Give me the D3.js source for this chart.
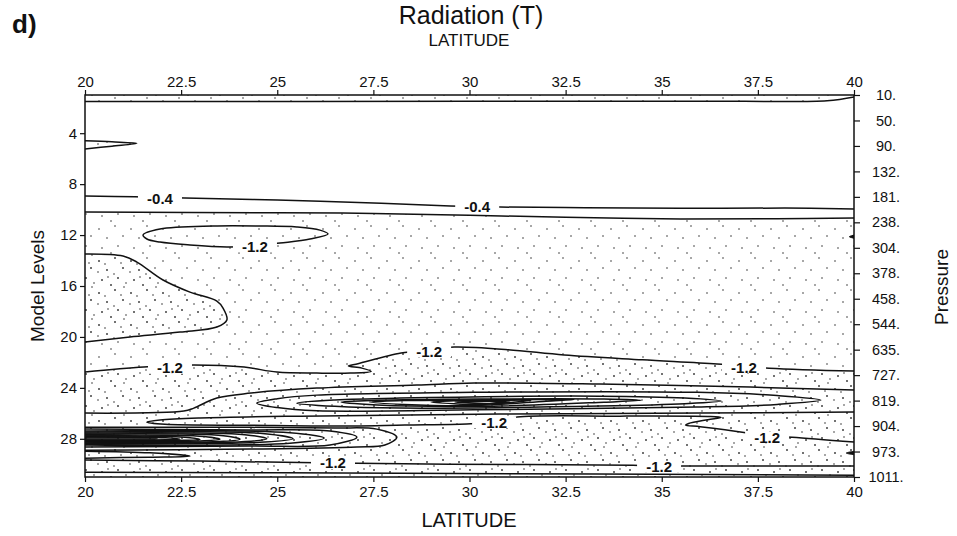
<!DOCTYPE html>
<html>
<head>
<meta charset="utf-8">
<script src="https://cdn.jsdelivr.net/npm/d3@7"></script>
<style>
  body { margin: 0; background: #fff; }
  text { font-family: "Liberation Sans", Arial, Helvetica, sans-serif; fill: #111; }
</style>
</head>
<body>
<svg id="chart" width="957" height="536"></svg>
<script>
// ---- axes ----
const latTicks = [20, 22.5, 25, 27.5, 30, 32.5, 35, 37.5, 40];
const levelTicks = [4, 8, 12, 16, 20, 24, 28];
const pressureLevels = [1, 3, 5, 7, 9, 11, 13, 15, 17, 19, 21, 23, 25, 27, 29, 31];
const pressureLabels = ["10.", "50.", "90.", "132.", "181.", "238.", "304.", "378.",
                        "458.", "544.", "635.", "727.", "819.", "904.", "973.", "1011."];

// ---- contour lines, as [latitude, model level] points ----
const topBand = [[20, 1.52], [30, 1.5], [37, 1.5], [39.3, 1.45], [40, 1.15]];
const upperWedge = [[20, 4.6], [20.7, 4.68], [21.35, 4.8], [20.7, 5.02], [20, 5.24]];
const contourM04 = [[20, 8.93], [21.3, 9.0], [22.6, 9.09], [25, 9.25], [27.7, 9.5], [29.5, 9.72],
                    [30.8, 9.8], [33, 9.85], [35.5, 9.9], [38.2, 9.88], [40, 9.96]];
const contourM08 = [[20, 10.19], [25, 10.25], [27.5, 10.3], [30, 10.45], [32.5, 10.6],
                    [35.5, 10.74], [38, 10.72], [40, 10.66]];
const ringLevel12 = [[21.51, 12.0], [21.95, 11.53], [23.33, 11.29], [24.55, 11.29], [25.51, 11.37],
                     [26.11, 11.61], [26.32, 11.92], [25.85, 12.31], [25.07, 12.63], [24.42, 12.86],
                     [23.69, 12.94], [22.73, 12.78], [21.95, 12.55], [21.61, 12.31]];
const westLobe = [[20, 13.49], [20.99, 13.65], [21.35, 14.12], [22.03, 15.53], [22.73, 16.48],
                  [23.43, 17.18], [23.59, 17.73], [23.69, 18.67], [23.43, 19.22], [22.47, 19.62],
                  [21.17, 20.01], [20, 20.4]];
const contourM12Mid = [[20, 22.76], [21.53, 22.37], [22.83, 22.21], [24.14, 22.37], [24.99, 22.76],
                       [26.03, 22.84], [26.9, 22.84], [27.44, 22.7], [27.2, 22.45], [26.85, 22.28],
                       [27.1, 22.1], [28.22, 21.27], [28.95, 21.03], [29.6, 20.8], [31, 21.0],
                       [32.46, 21.42], [34.5, 21.8], [36.44, 22.13], [37.79, 22.45], [40, 22.68]];
const bandTop = [[20, 25.98], [22.57, 25.82], [22.83, 25.59], [23.43, 24.8], [24.32, 24.41],
                 [26.03, 24.02], [28.63, 23.78], [30.12, 23.62], [33.39, 23.7], [37.3, 23.94], [40, 24.17]];

// closed cells of the mid-level minimum near 30N
const core1 = [[24.47, 25.2], [25.0, 24.85], [26.03, 24.57], [30.12, 24.35], [35.92, 24.35], [38.0, 24.6],
               [39.14, 24.96], [38.0, 25.3], [35.92, 25.51], [30.12, 25.72], [26.03, 25.8], [25.0, 25.55]];
const core2 = [[25.51, 25.2], [26.5, 24.95], [28.19, 24.8], [33.39, 24.65], [35.6, 24.8], [36.54, 25.04],
               [35.6, 25.25], [33.39, 25.43], [28.19, 25.59], [26.5, 25.45]];
const core3 = [[26.66, 25.12], [27.6, 24.98], [30.27, 24.88], [33.5, 24.88], [34.46, 24.98],
               [33.5, 25.12], [30.27, 25.45], [27.6, 25.35]];
const core4 = [[27.44, 25.12], [28.3, 25.0], [30.0, 24.96], [32.0, 24.92], [32.72, 24.92],
               [32.0, 25.05], [30.0, 25.4], [28.3, 25.3]];
const core5 = [[29.0, 25.12], [29.6, 25.02], [30.27, 25.0], [31.6, 24.98], [30.27, 25.3], [29.6, 25.25]];
const core6 = [[29.62, 25.12], [30.53, 25.06], [31.05, 25.12], [30.53, 25.22]];

const tongueM12 = [[40, 25.9], [36, 25.98], [30.79, 26.06], [25.59, 26.22], [22.99, 26.37], [21.95, 26.53],
                   [21.61, 26.69], [22.08, 26.86], [24.29, 26.94], [26.37, 27.0], [28.32, 26.92],
                   [29.93, 26.84], [30.64, 26.69], [31.24, 26.29], [33.91, 26.22], [36.2, 26.25],
                   [36.54, 26.32], [36.2, 26.5], [35.7, 26.8], [35.62, 26.92], [36.0, 27.05],
                   [37.14, 27.5], [37.74, 27.79], [38.39, 27.87], [40, 28.26]];

// nested cells of the low-level minimum against 20N
const lowNest1 = [[20, 27.1], [24.29, 27.1], [26.5, 27.15], [27.59, 27.24], [28.11, 27.87], [27.8, 28.49],
                  [27.07, 28.65], [24.29, 28.81], [20, 28.89]];
const lowNest2 = [[20, 27.24], [24.29, 27.3], [26.37, 27.39], [27.07, 27.87], [26.37, 28.49],
                  [24.29, 28.57], [20, 28.65]];
const lowNest3 = [[20, 27.39], [25.33, 27.52], [26.22, 27.94], [25.33, 28.34], [20, 28.49]];
const lowNest4 = [[20, 27.47], [24.68, 27.6], [25.41, 28.0], [24.68, 28.26], [20, 28.42]];
const lowNest5 = [[20, 27.55], [24.16, 27.68], [24.73, 28.0], [24.16, 28.22], [20, 28.34]];
const lowNest6 = [[20, 27.63], [23.6, 27.76], [24.03, 28.03], [23.6, 28.2], [20, 28.26]];
const lowNest7 = [[20, 27.71], [23.1, 27.82], [23.51, 28.04], [23.1, 28.16], [20, 28.2]];
const lowNest8 = [[20, 27.79], [22.6, 27.87], [22.99, 28.05], [22.6, 28.12], [20, 28.15]];
const lowNest9 = [[20, 27.85], [22.1, 27.92], [22.47, 28.04], [22.1, 28.08], [20, 28.1]];
const lowCore = [[20, 27.6], [21.2, 27.72], [21.9, 28.0], [21.2, 28.35], [20, 28.5]];

const southWedge = [[20, 28.97], [21.69, 29.1], [22.73, 29.36], [21.69, 29.44], [20, 29.52]];
const contourM12Low = [[20, 29.67], [22.99, 29.75], [26.45, 29.9], [29.49, 29.99], [34.25, 30.07],
                       [34.93, 30.14], [35.99, 30.14], [40, 30.14]];
const nearSurface = [[20, 30.62], [28.19, 30.7], [40, 30.86]];
const eastNotchA = [[40, 12.0], [39.88, 12.13], [40, 12.25]];
const eastNotchB = [[40, 28.98], [39.8, 29.12], [40, 29.25]];

// contour labels
const labelText = ["-0.4", "-0.4", "-1.2", "-1.2", "-1.2", "-1.2", "-1.2", "-1.2", "-1.2", "-1.2"];
const labelLat = [21.95, 30.2, 24.42, 22.21, 28.95, 37.14, 30.64, 37.74, 26.45, 34.93];
const labelLevel = [9.12, 9.78, 12.88, 22.42, 21.15, 22.37, 26.7, 27.9, 29.9, 30.2];

// ---- scales ----
const width = 957, height = 536;
const x = d3.scaleLinear().domain([20, 40]).range([85, 854]);
const y = d3.scaleLinear().domain([1, 31]).range([95, 477]);

const svg = d3.select("#chart");
const defs = svg.append("defs");

defs.append("clipPath").attr("id", "plotClip")
  .append("rect").attr("x", x(20)).attr("y", y(1))
  .attr("width", x(40) - x(20)).attr("height", y(31) - y(1));

// stipple tiles
const sparseDots = [[3, 5], [19, 2], [11, 14], [27, 12], [6, 24], [22, 22], [15, 29]];
const denseDots = [[3, 5], [19, 2], [11, 14], [27, 12], [6, 24], [22, 22], [15, 29],
                   [9, 8], [25, 7], [2, 16], [18, 18], [30, 27], [12, 21], [28, 31]];
function stipple(id, dots) {
  const p = defs.append("pattern").attr("id", id)
    .attr("patternUnits", "userSpaceOnUse").attr("width", 32).attr("height", 32);
  p.selectAll("circle").data(dots).join("circle")
    .attr("cx", d => d[0]).attr("cy", d => d[1]).attr("r", 0.75).attr("fill", "#222");
}
stipple("stippleSparse", sparseDots);
stipple("stippleDense", denseDots);

svg.append("rect").attr("width", width).attr("height", height).attr("fill", "#fff");

const open = d3.line().x(d => x(d[0])).y(d => y(d[1])).curve(d3.curveCatmullRom.alpha(0.5));
const loop = d3.line().x(d => x(d[0])).y(d => y(d[1])).curve(d3.curveCatmullRomClosed.alpha(0.5));

const plot = svg.append("g").attr("clip-path", "url(#plotClip)");

// ---- stippled areas ----
const toBottom = `L${x(40)},${y(31)}L${x(20)},${y(31)}Z`;
const toTop = `L${x(40)},${y(1)}L${x(20)},${y(1)}Z`;
plot.append("path").attr("d", open(contourM08) + toBottom).attr("fill", "url(#stippleSparse)");
plot.append("path").attr("d", open(topBand) + toTop).attr("fill", "url(#stippleDense)");
plot.append("path").attr("d", open(upperWedge) + "Z").attr("fill", "url(#stippleDense)");
plot.append("path").attr("d", open(westLobe) + "Z").attr("fill", "url(#stippleDense)");
plot.append("path").attr("d", open(contourM12Mid) + toBottom).attr("fill", "url(#stippleDense)");
plot.append("path").attr("d", open(lowCore) + "Z").attr("fill", "#111").attr("opacity", 0.85);

// ---- contour lines ----
const openLines = [topBand, upperWedge, contourM04, contourM08, westLobe, contourM12Mid, bandTop,
                   tongueM12, lowNest1, lowNest2, lowNest3, lowNest4, lowNest5, lowNest6, lowNest7,
                   lowNest8, lowNest9, southWedge, contourM12Low, nearSurface];
const closedLines = [ringLevel12, core1, core2, core3, core4, core5, core6];

plot.append("g").selectAll("path").data(openLines).join("path")
  .attr("d", open).attr("fill", "none").attr("stroke", "#111").attr("stroke-width", 1.5);
plot.append("g").selectAll("path").data(closedLines).join("path")
  .attr("d", loop).attr("fill", "none").attr("stroke", "#111").attr("stroke-width", 1.5);
plot.append("g").selectAll("path").data([eastNotchA, eastNotchB]).join("path")
  .attr("d", d => open(d) + "Z").attr("fill", "#111").attr("stroke", "#111").attr("stroke-width", 1);

// ---- contour labels ----
const labels = plot.append("g").selectAll("g").data(labelText).join("g")
  .attr("transform", (d, i) => `translate(${x(labelLat[i])},${y(labelLevel[i])})`);
labels.append("rect").attr("x", -22).attr("y", -6).attr("width", 44).attr("height", 12).attr("fill", "#fff");
labels.append("text").text(d => d).attr("text-anchor", "middle").attr("dy", "0.36em")
  .attr("font-size", 15).attr("font-weight", "bold");

// ---- frame and axes ----
svg.append("rect").attr("x", x(20)).attr("y", y(1))
  .attr("width", x(40) - x(20)).attr("height", y(31) - y(1))
  .attr("fill", "none").attr("stroke", "#111").attr("stroke-width", 1.5);

function styleAxis(g, size) {
  g.select(".domain").remove();
  g.selectAll(".tick line").attr("stroke", "#111").attr("stroke-width", 1.2);
  g.selectAll(".tick text").attr("font-size", size).attr("fill", "#111")
    .attr("font-family", "Liberation Sans, Arial, sans-serif");
}

svg.append("g").attr("transform", `translate(0,${y(1)})`)
  .call(d3.axisTop(x).tickValues(latTicks).tickSize(5).tickPadding(3).tickFormat(d3.format("")))
  .call(g => styleAxis(g, 15));
svg.append("g").attr("transform", `translate(0,${y(31)})`)
  .call(d3.axisBottom(x).tickValues(latTicks).tickSize(5).tickPadding(4).tickFormat(d3.format("")))
  .call(g => styleAxis(g, 15));
svg.append("g").attr("transform", `translate(${x(20)},0)`)
  .call(d3.axisLeft(y).tickValues(levelTicks).tickSize(5).tickPadding(3))
  .call(g => styleAxis(g, 15));
svg.append("g").attr("transform", `translate(${x(40)},0)`)
  .call(d3.axisRight(y).tickValues(pressureLevels).tickSize(6)
    .tickFormat((d, i) => pressureLabels[i]))
  .call(g => styleAxis(g, 14.5))
  .call(g => g.selectAll(".tick text").attr("x", 32).attr("text-anchor", "middle"));

// ---- titles ----
svg.append("text").attr("x", 12).attr("y", 33).text("d)")
  .attr("font-size", 26).attr("font-weight", "bold");
svg.append("text").attr("x", 471).attr("y", 24).attr("text-anchor", "middle")
  .attr("font-size", 25).text("Radiation (T)");
svg.append("text").attr("x", 469).attr("y", 46).attr("text-anchor", "middle")
  .attr("font-size", 17).text("LATITUDE");
svg.append("text").attr("x", 469).attr("y", 527).attr("text-anchor", "middle")
  .attr("font-size", 20).text("LATITUDE");
svg.append("text").attr("transform", "translate(44,286) rotate(-90)").attr("text-anchor", "middle")
  .attr("font-size", 19).text("Model Levels");
svg.append("text").attr("transform", "translate(948,287) rotate(-90)").attr("text-anchor", "middle")
  .attr("font-size", 19).text("Pressure");
</script>
</body>
</html>
